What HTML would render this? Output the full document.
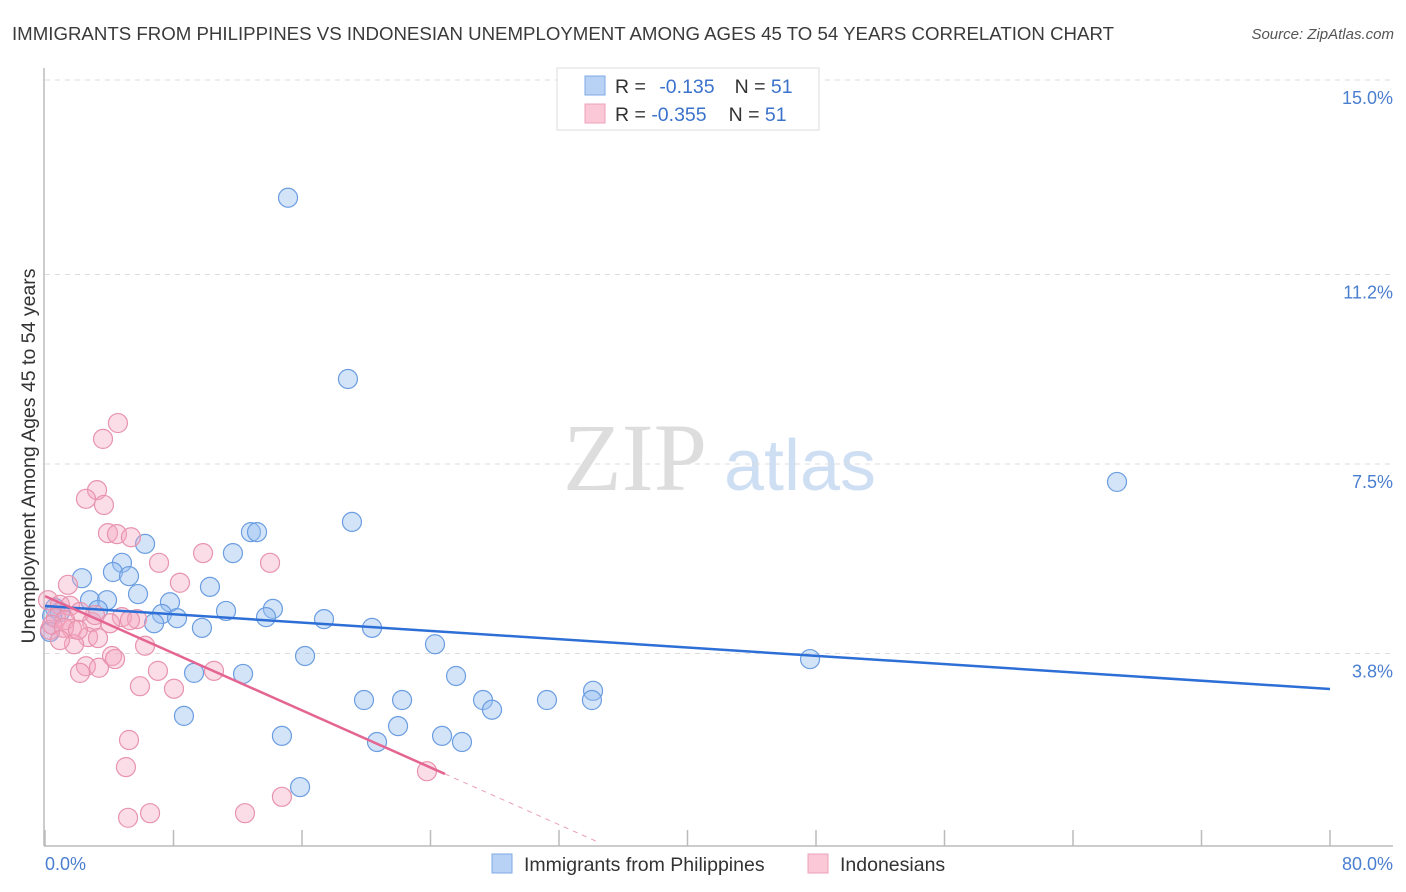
<!DOCTYPE html>
<html><head><meta charset="utf-8"><style>
body{margin:0;background:#fff;font-family:"Liberation Sans",sans-serif;}
svg{display:block}
</style></head><body>
<svg id="c" width="1406" height="892">
<text x="12" y="40" font-size="18" fill="#3a3a3a" textLength="1102" lengthAdjust="spacingAndGlyphs">IMMIGRANTS FROM PHILIPPINES VS INDONESIAN UNEMPLOYMENT AMONG AGES 45 TO 54 YEARS CORRELATION CHART</text>
<text x="1394" y="39" font-size="15" fill="#555" font-style="italic" text-anchor="end">Source: ZipAtlas.com</text>
<g>
<text x="635" y="490" font-size="96" font-family="Liberation Serif,serif" fill="#ddd" text-anchor="middle">ZIP</text>
<text x="800" y="490" font-size="72" fill="#cfdff3" text-anchor="middle">atlas</text>
</g>
<g id="grid"></g>
<g id="pts"></g>
<g id="lines"></g>
<text transform="translate(35,456) rotate(-90)" font-size="19.5" fill="#333" text-anchor="middle">Unemployment Among Ages 45 to 54 years</text>
<text x="45" y="870" font-size="18" fill="#4a7fd0">0.0%</text>
<text x="1393" y="870" font-size="18" fill="#4a7fd0" text-anchor="end">80.0%</text>
<g>
<rect x="557" y="68" width="262" height="62" fill="#fff" stroke="#ddd"/>
<rect x="585" y="76" width="20" height="19" fill="#b8d2f5" stroke="#7eaae6"/>
<rect x="585" y="104" width="20" height="19" fill="#fbc8d8" stroke="#eea0b8"/>
<text x="615" y="93" font-size="19.5" fill="#333">R = <tspan fill="#3b73cc" dx="8">-0.135</tspan><tspan dx="20" fill="#333">N = </tspan><tspan fill="#3b73cc">51</tspan></text>
<text x="615" y="121" font-size="19.5" fill="#333">R = <tspan fill="#3b73cc">-0.355</tspan><tspan dx="22" fill="#333">N = </tspan><tspan fill="#3b73cc">51</tspan></text>
</g>
<g>
<rect x="492" y="854" width="20" height="19" fill="#b8d2f5" stroke="#7eaae6"/>
<text x="524" y="871" font-size="19.5" fill="#333">Immigrants from Philippines</text>
<rect x="808" y="854" width="20" height="19" fill="#fbc8d8" stroke="#eea0b8"/>
<text x="840" y="871" font-size="19.5" fill="#333">Indonesians</text>
</g>
</svg>
<script>
const yTicks=[3.8,7.5,11.2,15.0];
const yTickLabels=["3.8%","7.5%","11.2%","15.0%"];
const xTicks=[0,8,16,24,32,40,48,56,64,72,80];
const blueX=[15.13,18.86,66.74,19.11,12.82,13.20,6.23,11.70,4.79,2.30,4.23,5.23,10.27,5.79,2.80,3.86,7.78,3.30,7.28,8.22,11.27,14.19,13.76,0.62,0.93,0.44,17.37,6.79,9.77,20.36,24.28,16.19,47.63,9.28,12.33,25.59,34.12,19.86,22.23,27.27,31.25,34.05,27.83,8.65,21.98,14.75,24.72,20.67,25.96,15.88,0.31];
const blueY=[12.70,9.16,7.15,6.37,6.17,6.17,5.94,5.76,5.57,5.27,5.39,5.31,5.10,4.96,4.84,4.84,4.80,4.65,4.57,4.49,4.63,4.67,4.51,4.69,4.61,4.53,4.47,4.39,4.30,4.30,3.98,3.75,3.69,3.42,3.40,3.36,3.07,2.89,2.89,2.89,2.89,2.89,2.70,2.58,2.38,2.19,2.19,2.07,2.07,1.19,4.22];
const pinkX=[4.54,3.61,3.24,2.55,3.67,3.92,4.48,5.35,9.84,7.10,14.01,1.43,8.40,0.19,0.93,1.56,2.18,4.79,5.73,2.93,1.68,0.31,2.68,3.30,6.23,1.81,4.17,4.36,2.55,3.36,2.18,7.03,10.52,5.91,8.03,5.23,5.04,23.78,14.75,6.54,12.45,5.17,0.68,1.25,4.05,5.29,0.44,1.18,2.05,3.11,0.93];
const pinkY=[8.30,7.99,6.99,6.82,6.70,6.15,6.13,6.07,5.76,5.57,5.57,5.14,5.18,4.84,4.75,4.73,4.61,4.51,4.47,4.41,4.28,4.26,4.12,4.10,3.95,3.98,3.75,3.69,3.55,3.52,3.42,3.46,3.46,3.16,3.11,2.11,1.58,1.50,1.00,0.68,0.68,0.59,4.49,4.45,4.39,4.45,4.36,4.30,4.26,4.55,4.06];
const blueTrend=[4.727,3.105]; // y at x=0, x=80
const pinkTrend=[4.92,-0.1395]; // intercept, slope
const pinkSolidEnd=24.9, pinkDashEnd=34.5;
const NS="http://www.w3.org/2000/svg";
const sx=v=>45+v*16.0625, sy=v=>848-v*51.2;
function mk(t,a,p){const e=document.createElementNS(NS,t);for(const k in a)e.setAttribute(k,a[k]);document.getElementById(p).appendChild(e);return e;}
yTicks.forEach((t,i)=>{
 const g=mk('line',{x1:45,x2:1393,y1:sy(t),y2:sy(t),stroke:'#ddd','stroke-dasharray':'5,5'},'grid');
 
 
 const l=mk('text',{x:1393,y:sy(t)+24,'font-size':18,fill:'#4a7fd0','text-anchor':'end'},'grid');
 l.textContent=yTickLabels[i];
 
 
});
const ax=mk('line',{x1:44,x2:44,y1:68,y2:846,stroke:'#bbb','stroke-width':1.5},'grid');


const bx=mk('line',{x1:44,x2:1393,y1:846,y2:846,stroke:'#bbb','stroke-width':1.5},'grid');


xTicks.forEach(t=>{const k=mk('line',{x1:sx(t),x2:sx(t),y1:830,y2:846,stroke:'#bbb','stroke-width':1.5},'grid');
 
 });
blueX.forEach((x,i)=>{const c=mk('circle',{cx:sx(x),cy:sy(blueY[i]),r:9.5,fill:'rgba(150,190,240,0.42)',stroke:'#6b9de0','stroke-width':1.2},'pts');
 
 });
pinkX.forEach((x,i)=>{const c=mk('circle',{cx:sx(x),cy:sy(pinkY[i]),r:9.5,fill:'rgba(245,165,192,0.38)',stroke:'#e893ae','stroke-width':1.2},'pts');
 
 });
const bl=mk('line',{x1:sx(0),y1:sy(blueTrend[0]),x2:sx(80),y2:sy(blueTrend[1]),stroke:'#2d6fd6','stroke-width':2.5},'lines');


const pf=x=>pinkTrend[0]+pinkTrend[1]*x;
const pl=mk('line',{x1:sx(0),y1:sy(pf(0)),x2:sx(pinkSolidEnd),y2:sy(pf(pinkSolidEnd)),stroke:'#e46592','stroke-width':2.5},'lines');


const pd=mk('line',{x1:sx(pinkSolidEnd),y1:sy(pf(pinkSolidEnd)),x2:sx(pinkDashEnd),y2:sy(pf(pinkDashEnd)),stroke:'#e9a0b8','stroke-width':1,'stroke-dasharray':'5,5'},'lines');


</script>
</body></html>
